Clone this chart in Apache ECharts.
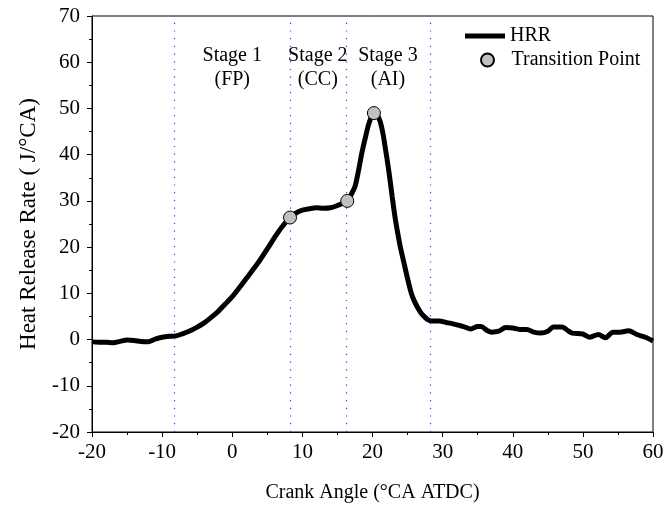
<!DOCTYPE html>
<html>
<head>
<meta charset="utf-8">
<script src="https://cdn.jsdelivr.net/npm/echarts@6/dist/echarts.min.js"></script>
<style>html,body{margin:0;padding:0;background:#fff}#c{width:667px;height:508px}</style>
</head>
<body>
<div id="c"></div>
<script>
var hrrAngle = [-20,-19,-18,-17,-16,-15,-14,-13,-12,-11,-10,-9,-8,-7,-6,-5,-4,-3,-2,-1,0,1,2,3,4,5,6,7,8.24,9,10,11,12,13,14,15,16.4,17,17.5,18,18.5,19,19.5,20.2,20.7,21.1,21.5,21.8,22.2,22.5,22.8,23.2,23.6,24,24.5,25,25.5,26,26.8,27.5,28,28.5,29.5,30.5,31.5,32.5,33,34,35,35.5,36.3,37,38,39,40,41,42,43,44,45,45.8,47,48,48.5,50,51,52.2,53.2,54.3,55.3,56.5,57.7,58.9,60];
var hrrValue = [-0.5,-0.6,-0.6,-0.7,-0.4,-0.1,-0.2,-0.4,-0.45,0.1,0.5,0.7,0.8,1.3,1.9,2.7,3.6,4.8,6.1,7.7,9.3,11.2,13.2,15.2,17.3,19.6,22.0,24.2,26.4,27.3,28.0,28.3,28.5,28.4,28.5,29.0,30.0,31.5,33.1,36.5,40.5,43.8,46.8,49.0,48.5,47.1,44.5,41.7,37.8,34.5,31.0,26.6,23.0,19.8,16.5,13.2,10.2,8.2,6.0,4.8,4.2,4.0,4.0,3.7,3.4,3.0,2.8,2.3,2.8,2.8,2.0,1.6,1.8,2.6,2.5,2.2,2.2,1.6,1.4,1.8,2.7,2.7,1.8,1.4,1.2,0.5,1.1,0.4,1.6,1.6,1.9,1.1,0.5,-0.3];
var tpAngle = [8.24, 16.4, 20.2];
var tpValue = [26.4, 30.0, 49.0];
var stageBounds = [-8.2, 8.2, 16.2, 28.2];
var stageLabels = ['Stage 1\n(FP)', 'Stage 2\n(CC)', 'Stage 3\n(AI)'];
var xTicks = {min: -20, max: 60, interval: 10};
var yTicks = {min: -20, max: 70, interval: 10};

var font = 'Liberation Serif';
var chart = echarts.init(document.getElementById('c'), null, {renderer: 'canvas'});

var hrrData = hrrAngle.map(function (a, i) { return [a, hrrValue[i]]; });
var tpData = tpAngle.map(function (a, i) { return [a, tpValue[i]]; });
var areas = [];
for (var i = 0; i < stageLabels.length; i++) {
  areas.push([{xAxis: stageBounds[i], name: stageLabels[i]}, {xAxis: stageBounds[i + 1]}]);
}

chart.setOption({
  animation: false,
  backgroundColor: '#fff',
  textStyle: {fontFamily: font, color: '#000'},
  grid: {left: 92, right: 14, top: 16, bottom: 76, show: true, borderColor: '#000', borderWidth: 1, backgroundColor: 'transparent'},
  legend: [{
    data: [{name: 'HRR', icon: 'rect'}],
    left: 465, top: 26, padding: 0, itemWidth: 40, itemHeight: 5, orient: 'vertical',
    textStyle: {fontFamily: font, fontSize: 20, color: '#000'}
  }, {
    data: [{name: 'Transition Point', icon: 'circle'}],
    left: 480, top: 50, padding: 0, itemWidth: 38, itemHeight: 13, orient: 'vertical',
    textStyle: {fontFamily: font, fontSize: 20, color: '#000'}
  }],
  xAxis: {
    type: 'value', min: xTicks.min, max: xTicks.max, interval: xTicks.interval,
    name: 'Crank Angle (°CA ATDC)', nameLocation: 'middle', nameGap: 51,
    nameTextStyle: {fontFamily: font, fontSize: 20, color: '#000'},
    axisLine: {show: true, onZero: false, lineStyle: {color: '#000', width: 1}},
    axisTick: {show: true, inside: false, length: 5, lineStyle: {color: '#000'}},
    minorTick: {show: true, splitNumber: 2, length: 3, lineStyle: {color: '#000'}},
    axisLabel: {fontFamily: font, fontSize: 21, color: '#000', margin: 10},
    splitLine: {show: false}
  },
  yAxis: {
    type: 'value', min: yTicks.min, max: yTicks.max, interval: yTicks.interval,
    name: 'Heat Release Rate ( J/°CA)', nameLocation: 'middle', nameGap: 52,
    nameTextStyle: {fontFamily: font, fontSize: 23, color: '#000'},
    axisLine: {show: true, onZero: false, lineStyle: {color: '#000', width: 1}},
    axisTick: {show: true, inside: false, length: 5, lineStyle: {color: '#000'}},
    minorTick: {show: true, splitNumber: 2, length: 3, lineStyle: {color: '#000'}},
    axisLabel: {fontFamily: font, fontSize: 21, color: '#000', margin: 12},
    splitLine: {show: false}
  },
  series: [{
    name: 'HRR', type: 'line', data: hrrData, smooth: 0.3,
    showSymbol: false, symbol: 'none', color: '#000',
    lineStyle: {color: '#000', width: 5},
    itemStyle: {color: '#000'},
    z: 3,
    markLine: {
      silent: true, symbol: 'none', label: {show: false},
      lineStyle: {color: '#3a3aff', width: 1.2, type: [1.2, 6.5]},
      data: stageBounds.map(function (b) { return {xAxis: b}; })
    },
    markArea: {
      silent: true,
      itemStyle: {color: 'rgba(0,0,0,0)'},
      label: {show: true, position: 'insideTop', distance: 28, fontFamily: font, fontSize: 20, lineHeight: 24, color: '#000', align: 'center'},
      data: areas
    }
  }, {
    name: 'Transition Point', type: 'scatter', data: tpData, symbol: 'circle', symbolSize: 13,
    itemStyle: {color: '#c0c0c0', borderColor: '#000', borderWidth: 1, opacity: 1},
    z: 5
  }]
});
</script>
</body>
</html>
